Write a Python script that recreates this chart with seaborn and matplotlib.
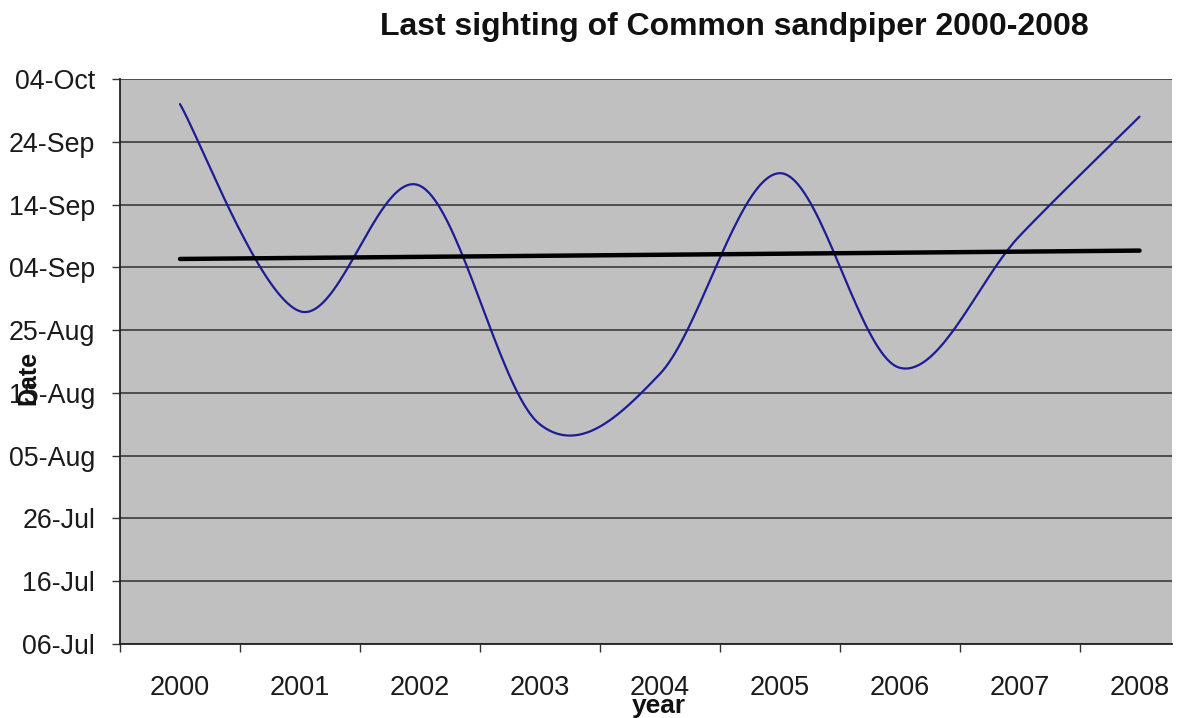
import numpy as np
import pandas as pd
import matplotlib
matplotlib.use('Agg')
import matplotlib.pyplot as plt
import matplotlib.dates as mdates
import seaborn as sns

# Last sighting date per year
years = ['2000', '2001', '2002', '2003', '2004', '2005', '2006', '2007', '2008']
last_seen = ['30-Sep', '28-Aug', '17-Sep', '10-Aug', '18-Aug', '19-Sep', '19-Aug', '09-Sep', '28-Sep']

# map all dates onto one common (non-leap) year so only day/month matter
df = pd.DataFrame({'year': years, 'last_seen': last_seen})
df['date'] = pd.to_datetime('2001-' + df['last_seen'], format='%Y-%d-%b')
df['x'] = np.arange(len(df))
df['y'] = mdates.date2num(df['date'])


def excel_smooth(x, y, n=40):
    # cubic bezier through the points, like Excel's "smoothed line"
    px = np.concatenate([[x[0]], x, [x[-1]]])
    py = np.concatenate([[y[0]], y, [y[-1]]])
    xs, ys = [], []
    t = np.linspace(0, 1, n)[:, None]
    for i in range(1, len(px) - 2):
        p0 = np.array([px[i], py[i]])
        p3 = np.array([px[i + 1], py[i + 1]])
        p1 = p0 + (np.array([px[i + 1], py[i + 1]]) - np.array([px[i - 1], py[i - 1]])) / 6
        p2 = p3 - (np.array([px[i + 2], py[i + 2]]) - np.array([px[i], py[i]])) / 6
        seg = ((1 - t) ** 3) * p0 + 3 * ((1 - t) ** 2) * t * p1 + 3 * (1 - t) * t ** 2 * p2 + t ** 3 * p3
        xs.append(seg[:, 0])
        ys.append(seg[:, 1])
    return np.concatenate(xs), np.concatenate(ys)


sns.set_style('white')
plt.rcParams['font.family'] = ['Liberation Sans', 'DejaVu Sans']

fig = plt.figure(figsize=(11.79, 7.18), dpi=100)
ax = fig.add_axes([0.1018, 0.103, 0.8922, 0.787])
ax.set_facecolor('#c0c0c0')

sx, sy = excel_smooth(df['x'].values.astype(float), df['y'].values)
sns.lineplot(x=sx, y=sy, sort=False, estimator=None, color='#1c1c96', linewidth=1.6, ax=ax)

# linear trend line
sns.regplot(x='x', y='y', data=df, scatter=False, ci=None, truncate=True,
            line_kws={'color': 'black', 'linewidth': 3.2}, ax=ax)

ymin = mdates.date2num(pd.Timestamp('2001-07-06'))
ymax = mdates.date2num(pd.Timestamp('2001-10-04'))
ax.set_ylim(ymin, ymax)
ax.set_yticks(np.arange(ymin, ymax + 1, 10))
ax.yaxis.set_major_formatter(mdates.DateFormatter('%d-%b'))
ax.grid(axis='y', color='#3a3a3a', linewidth=1.2)
ax.set_axisbelow(True)

# plot area is cut off a little before the last category ends
ax.set_xlim(-0.5, len(years) - 0.73)
ax.set_xticks(np.arange(-0.5, len(years) - 0.7, 1.0))
ax.set_xticklabels([])
ax.set_xticks(np.arange(len(years)), minor=True)
ax.set_xticklabels(years, minor=True)
ax.tick_params(axis='x', which='major', direction='out', length=6, width=1, color='#333333', bottom=True)
ax.tick_params(axis='x', which='minor', length=0, pad=22, labelsize=19.5, labelcolor='#1a1a1a')
ax.tick_params(axis='y', direction='out', length=6, width=1, color='#333333', left=True,
               pad=12, labelsize=19.3, labelcolor='#1a1a1a')

ax.set_xlabel('')
ax.set_ylabel('')
for side in ['left', 'bottom']:
    ax.spines[side].set_color('#222222')
    ax.spines[side].set_linewidth(1.3)
for side in ['top', 'right']:
    ax.spines[side].set_visible(False)

fig.text(0.6226, 0.962, 'Last sighting of Common sandpiper 2000-2008', ha='center', va='center',
         fontsize=23, fontweight='bold', color='#111111')
fig.text(0.024, 0.473, 'Date', rotation=90, ha='center', va='center',
         fontsize=18, fontweight='bold', color='#111111')
fig.text(0.559, 0.0167, 'year', ha='center', va='center',
         fontsize=19, fontweight='bold', color='#111111')

fig.savefig('out.png', dpi=100)
